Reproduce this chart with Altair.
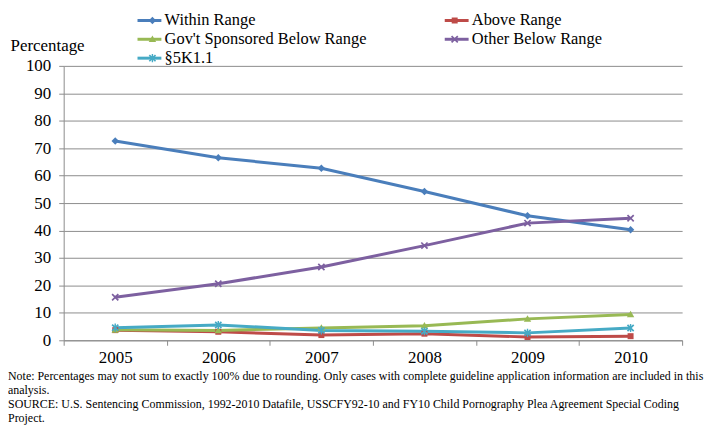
import math
import altair as alt
import pandas as pd

# ---- data ----
years = [2005, 2006, 2007, 2008, 2009, 2010]
series_names = ["Within Range", "Above Range", "Gov't Sponsored Below Range",
                "Other Below Range", "§5K1.1"]
within_range = [72.6, 66.5, 62.7, 54.2, 45.4, 40.3]
above_range = [3.7, 3.1, 1.9, 2.4, 1.2, 1.5]
govt_below = [3.8, 3.6, 4.5, 5.3, 7.8, 9.4]
other_below = [15.7, 20.6, 26.7, 34.5, 42.7, 44.5]
sec_5k11 = [4.6, 5.6, 3.6, 3.3, 2.7, 4.5]
y_ticks = list(range(0, 101, 10))
note_lines = [
    "Note: Percentages may not sum to exactly 100% due to rounding. Only cases with complete guideline application information are included in this",
    "analysis.",
    "SOURCE:  U.S. Sentencing Commission, 1992-2010 Datafile, USSCFY92-10 and FY10 Child Pornography Plea Agreement Special Coding",
    "Project.",
]

# ---- styles ----
SERIF = "Times New Roman"
GRAY = "#8C8C8C"
color_of = {
    "Within Range": "#4A7EBB",
    "Above Range": "#BE4B48",
    "Gov't Sponsored Below Range": "#98B954",
    "Other Below Range": "#7D60A0",
    "§5K1.1": "#46AAC5",
}


def poly(pts):
    return "M" + "L".join(f"{x:.3f},{y:.3f}" for x, y in pts) + "Z"


def x_cross(a=0.24, L=1.25):
    pts = [(a, -L), (a, -a), (L, -a), (L, a), (a, a), (a, L), (-a, L), (-a, a),
           (-L, a), (-L, -a), (-a, -a), (-a, -L)]
    r = 1 / math.sqrt(2)
    return poly([((x - y) * r, (x + y) * r) for x, y in pts])


shape_of = {
    "Within Range": "M0,-1.05L1.05,0L0,1.05L-1.05,0Z",
    "Above Range": "M-0.85,-0.85L0.85,-0.85L0.85,0.85L-0.85,0.85Z",
    "Gov't Sponsored Below Range": "M0,-1.05L1.05,0.8L-1.05,0.8Z",
    "Other Below Range": x_cross(),
    "§5K1.1": x_cross() + "M-0.2,-1.15L0.2,-1.15L0.2,1.15L-0.2,1.15Z",
}

# legend is filled column by column: 3 rows x 2 columns as in the reference
legend_order = ["Within Range", "Gov't Sponsored Below Range", "§5K1.1",
                "Above Range", "Other Below Range"]
colors = [color_of[s] for s in legend_order]
shapes = [shape_of[s] for s in legend_order]
# markers get their own (suffixed) keys so their legend stays separate from the lines'
SUFFIX = "~"
marker_order = [s + SUFFIX for s in legend_order]

values = [within_range, above_range, govt_below, other_below, sec_5k11]
rows = []
for name, vals in zip(series_names, values):
    for yr, v in zip(years, vals):
        rows.append({"year": yr, "value": v, "series": name})
df = pd.DataFrame(rows)

boundaries = [years[0] - 0.5] + [y + 0.5 for y in years]
x_values = sorted(years + boundaries)

x_enc = alt.X(
    "year:Q",
    scale=alt.Scale(domain=[boundaries[0], boundaries[-1]], nice=False, zero=False),
    axis=alt.Axis(
        values=x_values, title=None, grid=False,
        labelExpr="datum.value % 1 == 0 ? format(datum.value, 'd') : ''",
        labelOverlap=False, labelFont=SERIF, labelFontSize=17, labelColor="black",
        labelPadding=4, tickSize=5, tickColor=GRAY, domainColor=GRAY,
        tickOpacity=alt.condition("datum.value % 1 == 0", alt.value(0), alt.value(1)),
    ),
)
y_enc = alt.Y(
    "value:Q",
    scale=alt.Scale(domain=[0, 100], nice=False),
    axis=alt.Axis(
        values=y_ticks, title="Percentage", titleAngle=0, titleAlign="left",
        titleBaseline="middle", titleX=-54, titleY=-20, titleFont=SERIF,
        titleFontSize=17, titleFontWeight="normal", titleColor="black",
        labelFont=SERIF, labelFontSize=17, labelColor="black", labelPadding=8,
        tickSize=5, tickColor=GRAY, domainColor=GRAY, gridColor=GRAY,
    ),
)

base = alt.Chart(df)

LEG_X, LEG_Y = 78, -54
COL_PAD = 72
LONGEST_LABEL_W = 203  # width of "Gov't Sponsored Below Range" at 16.5px serif
leg_lines = alt.Legend(
    title=None, orient="none", legendX=LEG_X, legendY=LEG_Y, columns=2,
    columnPadding=COL_PAD, rowPadding=2, labelFont=SERIF, labelFontSize=16.5,
    labelColor="black", labelLimit=0, labelOffset=7, symbolSize=144,
    symbolType="M-2,0L2,0", symbolStrokeWidth=3,
)
leg_marks = alt.Legend(
    title=None, orient="none", legendX=LEG_X + 3, legendY=LEG_Y, columns=2,
    columnPadding=COL_PAD + LONGEST_LABEL_W, rowPadding=2, labelFont=SERIF,
    labelFontSize=16.5, labelColor="black", labelLimit=0, labelOffset=12,
    labelExpr="''", symbolSize=50, symbolStrokeWidth=0,
)

lines = base.mark_line(strokeWidth=3).encode(
    x=x_enc, y=y_enc,
    color=alt.Color("series:N", scale=alt.Scale(domain=legend_order, range=colors),
                    legend=leg_lines),
)

markers = base.transform_calculate(
    series_m=f"datum.series + '{SUFFIX}'"
).mark_point(filled=True, size=50, opacity=1, strokeWidth=0).encode(
    x=x_enc, y=y_enc,
    fill=alt.Fill("series_m:N", scale=alt.Scale(domain=marker_order, range=colors),
                  legend=leg_marks),
    shape=alt.Shape("series_m:N", scale=alt.Scale(domain=marker_order, range=shapes),
                    legend=leg_marks),
)

chart = alt.layer(lines, markers).properties(
    width=622, height=276,
    padding={"left": 0, "top": 3, "right": 0, "bottom": 0},
    title=alt.TitleParams(
        text=note_lines, orient="bottom", anchor="start", frame="bounds",
        font=SERIF, fontSize=12, fontWeight="normal", lineHeight=14,
        color="black", offset=6, dx=-2,
    ),
).configure_view(stroke=None)

chart.save("out.html", embed_options={"renderer": "svg", "actions": False})
